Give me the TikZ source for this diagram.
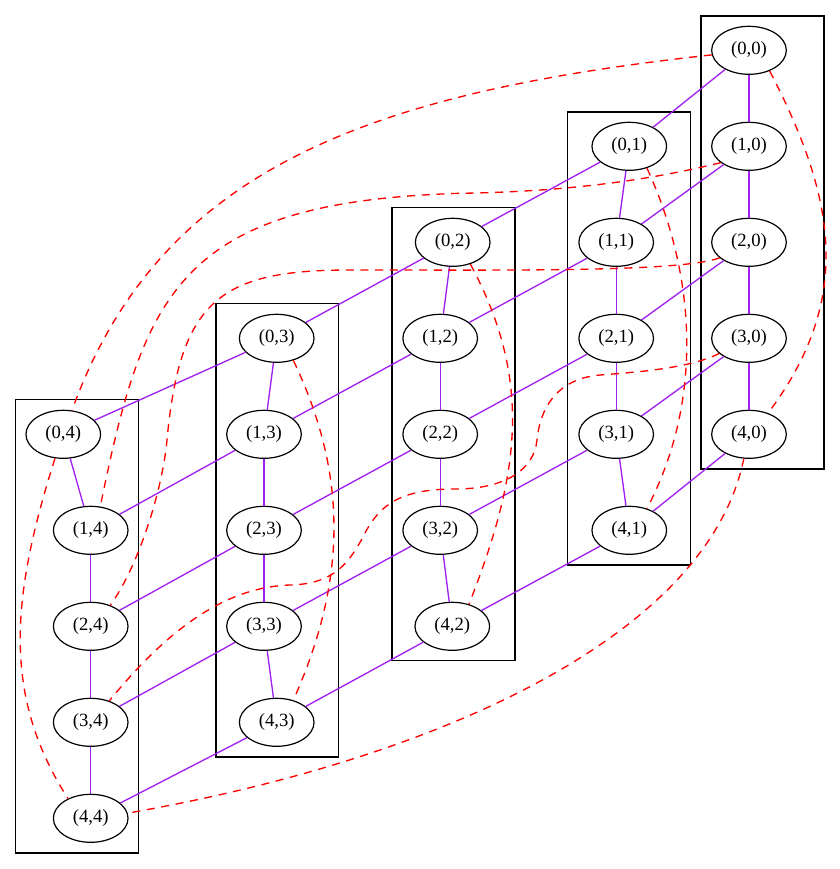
\documentclass[tikz,border=0pt]{standalone}
\usepackage{fontspec}
\setmainfont{Liberation Serif}
\usepackage{xcolor}
\usepackage{tikz}
\usetikzlibrary{shapes.geometric}
\definecolor{gridpurple}{HTML}{A020F0}
\definecolor{wrapred}{HTML}{FF0000}

\begin{document}
\begin{tikzpicture}[x=0.75pt,y=-0.75pt,font=\fontsize{14}{16}\selectfont]
\tikzset{cell/.style={draw,ellipse,minimum width=56pt,minimum height=36pt,inner sep=0pt,line width=0.9pt},
cluster/.style={draw,line width=0.9pt},
link/.style={draw=gridpurple,line width=1pt},
wrap/.style={draw=wrapred,line width=1pt,dash pattern=on 6pt off 5pt}}
\useasboundingbox (0,0) rectangle (840,869);
\foreach \l/\r/\t/\b in {701/824/16/469,567.7/690.3/112/565,392/515/207.7/660.7,216/338.7/303.7/757,15.7/138.3/399.3/853}
  \draw[cluster] (\l,\t) rectangle (\r,\b);
\foreach \i/\j/\x in {0/0/749,1/0/749,2/0/749,3/0/749,4/0/749,
  0/1/629.3,1/1/616.2,2/1/616.2,3/1/616.2,4/1/629.3,
  0/2/452.7,1/2/440.2,2/2/440.2,3/2/440.2,4/2/452.3,
  0/3/276.7,1/3/264,2/3/264,3/3/264,4/3/276.7,
  0/4/63.3,1/4/90.7,2/4/90.7,3/4/90.7,4/4/90.7}
  \node[cell] (n\i\j) at (\x,{50.3+96*(\i+\j)}) {(\i,\j)};
\foreach \i/\k in {0/1,1/2,2/3,3/4}
  \foreach \j in {0,...,4} {
    \draw[link] (n\i\j) -- (n\k\j);
    \draw[link] (n\j\i) -- (n\j\k);
  }
\draw[wrap] (n00.187) .. controls (374,92) and (160,166) .. (n04.70);
\draw[wrap] (n10.210) .. controls (634,184) and (547,192) .. (460,193.3)
  .. controls (180,202) and (144,291) .. (n14.68);
\draw[wrap] (n20.208) .. controls (680,272) and (520,270) .. (350,270)
  .. controls (220,270) and (180,300) .. (167,440)
  .. controls (162.4,490) and (139,565) .. (n24.47);
\draw[wrap] (n30.207) .. controls (690,368) and (640,372) .. (600,375)
  .. controls (555,379) and (540,410) .. (537,440)
  .. controls (534,470) and (505,489) .. (455,489)
  .. controls (400,489) and (380,505) .. (365,533)
  .. controls (350,562) and (335,584) .. (290,585)
  .. controls (225,587) and (167,630) .. (n34.49);
\draw[wrap] (n40.258) .. controls (708,634.5) and (441,758.6) .. (n44.8);
\draw[wrap] (n00.315) .. controls (838,202) and (852,301) .. (n40.48);
\draw[wrap] (n01.309) .. controls (697,277) and (703,402) .. (n41.51);
\draw[wrap] (n02.309) .. controls (534,382) and (519,477) .. (n42.53);
\draw[wrap] (n03.307) .. controls (349,477) and (346,582) .. (n43.53);
\draw[wrap] (n04.251) .. controls (10,600) and (3,697) .. (n44.139);
\end{tikzpicture}
\end{document}
